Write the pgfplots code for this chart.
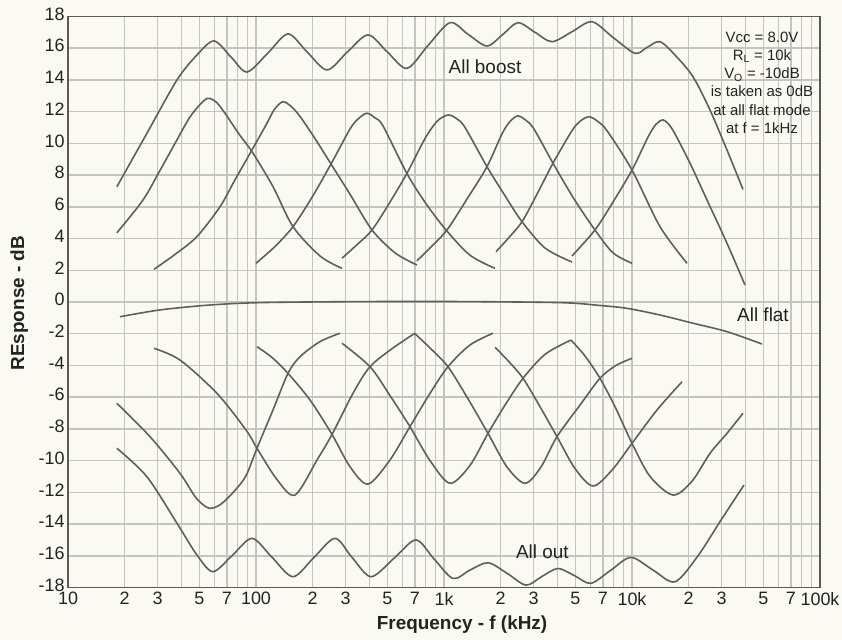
\documentclass[border=0pt]{standalone}
\usepackage{pgfplots}
\pgfplotsset{compat=1.18}
\usepackage{fontspec}
\setmainfont{Liberation Sans}
\definecolor{bg}{RGB}{250,250,243}
\definecolor{curve}{RGB}{95,95,95}
\definecolor{gridc}{RGB}{196,196,194}
\definecolor{txt}{RGB}{35,35,35}
\pgfplotsset{cv/.style={color=curve, line width=1.6bp, smooth, no marks}}
\begin{document}
\begin{tikzpicture}[x=1bp,y=1bp]
\fill[bg] (0,0) rectangle (842,640);
\useasboundingbox (0,0) rectangle (842,640);
\begin{axis}[
  at={(68bp,52.5bp)}, anchor=south west,
  scale only axis, width=752bp, height=571bp,
  xmode=log, log basis x=10,
  xmin=10, xmax=100000, ymin=-18, ymax=18,
  xtick={10,20,30,50,70,100,200,300,500,700,1000,2000,3000,5000,7000,10000,20000,30000,50000,70000,100000},
  xticklabels={10,2,3,5,7,100,2,3,5,7,1k,2,3,5,7,10k,2,3,5,7,100k},
  minor xtick={40,60,80,90,400,600,800,900,4000,6000,8000,9000,40000,60000,80000,90000},
  ytick={-18,-16,...,18},
  grid=both,
  major grid style={gridc, line width=1.5bp},
  minor grid style={gridc, line width=1.3bp},
  major tick length=0pt, minor tick length=0pt,
  axis line style={black!65, line width=1.2bp},
  tick label style={font=\fontsize{18}{20}\selectfont, text=txt},
  yticklabel style={yshift=2.5bp},
  xticklabel style={yshift=-1bp},
  /pgf/number format/assume math mode=true,
  xlabel={Frequency - f (kHz)}, ylabel={REsponse - dB},
  xlabel style={at={(axis description cs:0.524,-0.0727)}, anchor=base, font=\bfseries\fontsize{19}{21}\selectfont, text=txt},
  ylabel style={at={(axis description cs:-0.0585,0.498)}, anchor=base, font=\bfseries\fontsize{19}{21}\selectfont, text=txt},
]
% All boost
\addplot[cv] coordinates {(18.2,7.27) (26.3,10.64) (38.0,14.0) (48.5,15.57) (59.8,16.46) (73.6,15.45) (89.6,14.5) (115.8,15.7) (148,16.9) (186.8,15.77) (238.6,14.63) (304.8,15.74) (394.2,16.84) (497,15.79) (635,14.73) (822,16.17) (1076,17.61) (1341,16.88) (1693,16.14) (2060,16.88) (2475,17.61) (3048,17.0) (3754,16.41) (4795,17.04) (6125,17.67) (7922,16.68) (10370,15.68) (12020,16.05) (14090,16.41) (17140,15.5) (21110,14.2) (26000,12.1) (32010,9.58) (38940,7.1)};
% All flat
\addplot[cv] coordinates {(18.9,-0.93) (30.9,-0.5) (56.9,-0.19) (105,-0.04) (316,0.02) (1076,0.03) (4140,-0.04) (6755,-0.22) (9407,-0.4) (14090,-0.82) (21110,-1.34) (32010,-1.87) (49140,-2.65)};
% All out
\addplot[cv] coordinates {(18.2,-9.22) (26.3,-11.02) (38.0,-13.95) (48.5,-15.95) (59.0,-17.0) (74.5,-16.0) (95.2,-14.9) (121.7,-16.1) (157.3,-17.32) (203.5,-16.1) (263.2,-14.9) (324,-16.1) (409,-17.32) (542,-16.16) (709,-15.0) (885,-16.2) (1116,-17.43) (1375,-16.9) (1714,-16.44) (2163,-17.1) (2730,-17.85) (3322,-17.3) (4040,-16.8) (4974,-17.27) (6050,-17.74) (7730,-16.9) (9878,-16.1) (12940,-16.9) (16930,-17.64) (22440,-16.0) (29740,-13.75) (39420,-11.54)};
% Boost bands
\addplot[cv] coordinates {(18.2,4.36) (25.06,6.43) (30.86,8.3) (37.1,10.0) (44.2,11.6) (50.4,12.45) (55.5,12.84) (61.5,12.6) (68.4,11.9) (82.2,10.5) (95.2,9.48) (123.2,7.27) (157.3,4.75) (219,2.9) (286.7,2.12)};
\addplot[cv] coordinates {(28.67,2.06) (37.1,3.0) (48.5,4.12) (64.3,6.0) (77.3,7.7) (92.95,9.37) (114.4,11.27) (125.4,12.15) (139.2,12.63) (154.6,12.3) (171.4,11.7) (206,10.3) (250.6,8.7) (316,6.8) (414,4.54) (548.6,3.1) (718,2.33)};
\addplot[cv] coordinates {(100,2.44) (126.2,3.5) (157.3,4.75) (198.6,6.6) (250.6,8.7) (316,10.9) (350,11.55) (389.4,11.9) (430,11.6) (473.7,11.1) (635,8.1) (802,6.2) (1025,4.54) (1375,2.95) (1868,2.12)};
\addplot[cv] coordinates {(286.7,2.76) (336.2,3.5) (414,4.54) (516,6.3) (635,8.11) (792,10.3) (920,11.4) (1050,11.79) (1170,11.55) (1294,11.0) (1693,8.53) (2111,6.7) (2600,5.06) (3446,3.4) (4795,2.52)};
\addplot[cv] coordinates {(718,2.6) (842.6,3.4) (1037,4.54) (1310,6.4) (1693,8.53) (2035,10.6) (2250,11.4) (2475,11.73) (2730,11.45) (3011,10.9) (3800,8.75) (4914,6.5) (6354,4.54) (7922,3.1) (10000,2.44)};
\addplot[cv] coordinates {(1891,3.17) (2190,4.0) (2600,5.06) (3124,6.8) (3800,8.75) (4795,10.8) (5300,11.4) (5904,11.68) (6550,11.4) (7360,10.8) (10000,8.32) (14090,4.75) (19620,2.44)};
\addplot[cv] coordinates {(4795,2.9) (6354,4.54) (7922,6.3) (10000,8.32) (12170,10.4) (13400,11.2) (14620,11.48) (15700,11.2) (16930,10.6) (20350,8.75) (25060,6.43) (32010,3.7) (39910,1.07)};
% Cut bands
\addplot[cv] coordinates {(18.2,-6.39) (27.3,-8.49) (39.42,-10.8) (48,-12.35) (56.2,-13.0) (65,-12.75) (77,-11.9) (88.5,-10.95) (101.2,-9.22) (123.2,-6.8) (148,-4.5) (171.4,-3.45) (219,-2.5) (279.7,-1.97)};
\addplot[cv] coordinates {(28.67,-2.92) (39.42,-3.66) (62.0,-5.76) (88.5,-8.07) (101.2,-9.22) (129.4,-11.2) (161.2,-12.17) (211.1,-9.96) (253.7,-8.35) (328,-5.76) (404,-4.08) (535.4,-2.9) (700.7,-1.97)};
\addplot[cv] coordinates {(101.2,-2.82) (121.7,-3.5) (148,-4.5) (193.8,-6.18) (253.7,-8.35) (316,-10.38) (394.2,-11.48) (516,-9.96) (659,-7.86) (842.6,-5.76) (1050,-4.08) (1375,-2.71) (1822,-1.97)};
\addplot[cv] coordinates {(286.7,-2.6) (404,-4.08) (516,-5.9) (659,-7.86) (842.6,-10.0) (1076,-11.43) (1375,-10.3) (1714,-8.28) (2111,-6.5) (2632,-4.81) (3446,-3.3) (4737,-2.4)};
\addplot[cv] coordinates {(700.7,-2.0) (842.6,-2.9) (1050,-4.08) (1341,-6.1) (1714,-8.28) (2163,-10.4) (2697,-11.43) (3280,-10.4) (3991,-8.49) (5288,-6.5) (6755,-4.81) (8219,-4.0) (10000,-3.55)};
\addplot[cv] coordinates {(1868,-2.86) (2190,-3.7) (2632,-4.81) (3240,-6.6) (3991,-8.49) (4974,-10.5) (6200,-11.6) (7825,-10.6) (10000,-8.91) (13580,-6.81) (18450,-5.03)};
\addplot[cv] coordinates {(4737,-2.4) (5622,-3.4) (6755,-4.81) (8119,-6.6) (10000,-8.91) (12470,-11.0) (16520,-12.17) (20850,-11.3) (26000,-9.54) (32010,-8.28) (38940,-7.02)};
% Labels
\node[font=\fontsize{19}{21}\selectfont, text=txt] at (axis cs:1652,14.84) {All boost};
\node[font=\fontsize{19}{21}\selectfont, text=txt] at (axis cs:49740,-0.82) {All flat};
\node[font=\fontsize{19}{21}\selectfont, text=txt] at (axis cs:3334,-15.74) {All out};
\node[align=center, font=\fontsize{15}{18.2}\selectfont, text=txt] at (axis cs:49140,13.82) {Vcc = 8.0V\\R\textsubscript{L} = 10k\\V\textsubscript{O} = -10dB\\is taken as 0dB\\at all flat mode\\at f = 1kHz};
\end{axis}
\end{tikzpicture}
\end{document}
